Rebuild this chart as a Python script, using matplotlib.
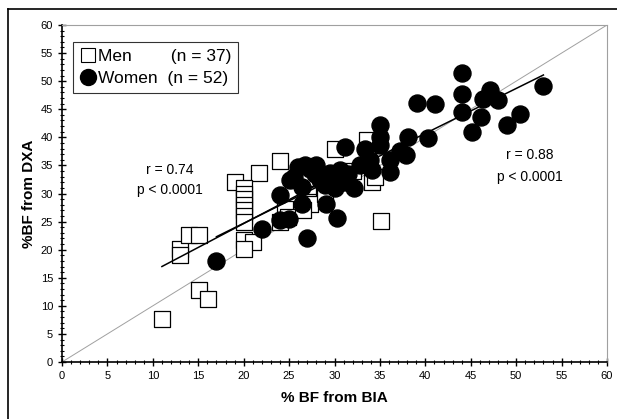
import matplotlib.pyplot as plt
import numpy as np
from matplotlib.lines import Line2D

plt.rcParams["font.family"] = ["Liberation Sans", "DejaVu Sans"]

# men (hollow squares)
men_bia = [11.0, 15.1, 16.1, 13.0, 13.0, 14.0, 15.1, 19.1, 21.7, 24.0, 30.1,
           20.0, 20.0, 20.0, 20.0, 20.0, 20.0, 20.0, 20.0, 21.0, 20.0,
           24.6, 24.9, 24.0, 27.5, 27.1, 27.1, 27.1, 27.3, 33.6, 34.1,
           34.5, 35.1, 26.5, 29.0, 30.0, 32.0]
men_dxa = [7.6, 12.9, 11.3, 20.2, 19.0, 22.6, 22.7, 32.1, 33.7, 35.8, 38.0,
           31.0, 30.0, 29.0, 28.0, 27.0, 26.0, 25.0, 21.7, 21.4, 20.2,
           27.3, 25.9, 25.0, 34.7, 32.0, 30.0, 28.5, 28.1, 39.5, 32.1,
           33.0, 25.1, 27.0, 30.0, 33.5, 34.0]

# women (filled circles)
women_bia = [17.0, 22.0, 24.0, 25.0, 27.0, 30.3, 26.4, 29.1, 24.0, 25.1,
             26.0, 27.3, 26.4, 28.4, 29.5, 30.6, 31.0, 32.1, 31.2, 33.4,
             32.8, 33.9, 34.1, 35.0, 35.0, 35.0, 36.1, 36.1, 37.2, 37.9,
             38.1, 40.3, 39.1, 41.1, 44.0, 44.0, 44.0, 45.1, 46.1, 46.4,
             47.1, 48.0, 49.0, 50.4, 53.0, 27.8, 29.0, 30.0, 26.8, 31.5,
             25.5, 28.0]
women_dxa = [18.0, 23.6, 25.3, 25.5, 22.0, 25.6, 28.2, 28.1, 29.7, 32.4,
             34.7, 34.4, 31.2, 32.4, 33.6, 34.2, 32.1, 30.9, 38.2, 38.0,
             35.1, 35.9, 34.2, 42.2, 40.1, 38.6, 35.9, 33.9, 37.5, 36.8,
             40.1, 39.8, 46.2, 46.0, 51.5, 47.8, 44.5, 41.0, 43.6, 46.9,
             48.4, 46.6, 42.2, 44.1, 49.1, 33.5, 31.5, 31.0, 35.0, 33.5,
             33.0, 35.0]

# regression lines: slope, intercept, x-range
men_fit = (0.85, 7.65)
men_range = (11.0, 35.0)
women_fit = (0.80, 8.7)
women_range = (17.0, 53.0)

fig = plt.figure(figsize=(6.17, 4.19), dpi=100)
ax = fig.add_axes([62 / 617, 57 / 419, 545 / 617, 337 / 419])

# outer frame (top and left edges)
fig.add_artist(Line2D([8 / 617, 1.0], [1 - 9 / 419, 1 - 9 / 419], color="black", lw=1.2))
fig.add_artist(Line2D([8 / 617, 8 / 617], [0, 1 - 9 / 419], color="black", lw=1.2))

ax.plot([0, 60], [0, 60], color="#a0a0a0", lw=0.7, zorder=1)

ax.scatter(men_bia, men_dxa, marker="s", s=120, facecolors="white",
           edgecolors="black", linewidths=0.9, zorder=2)
ax.scatter(women_bia, women_dxa, marker="o", s=150, color="black", zorder=3)

for (m, b), (x0, x1) in [(men_fit, men_range), (women_fit, women_range)]:
    xs = np.array([x0, x1])
    ax.plot(xs, m * xs + b, color="black", lw=1.1, zorder=4)

ax.set_xlim(0, 60)
ax.set_ylim(0, 60)
ax.set_xticks(np.arange(0, 61, 5))
ax.set_yticks(np.arange(0, 61, 5))
ax.set_xticks(np.arange(0, 61, 1), minor=True)
ax.set_yticks(np.arange(0, 61, 1), minor=True)
ax.tick_params(which="major", direction="inout", length=6, width=1, labelsize=8)
ax.tick_params(which="minor", direction="inout", length=3, width=0.8)
ax.spines["top"].set_color("#a0a0a0")
ax.spines["right"].set_color("#a0a0a0")
ax.spines["left"].set_linewidth(1.2)
ax.spines["bottom"].set_linewidth(1.2)

ax.set_xlabel("% BF from BIA", fontsize=11, fontweight="bold", labelpad=7)
ax.set_ylabel("%BF from DXA", fontsize=11, fontweight="bold", labelpad=3)

ax.text(11.9, 34.2, "r = 0.74", ha="center", va="center", fontsize=10)
ax.text(11.9, 30.6, "p < 0.0001", ha="center", va="center", fontsize=10)
ax.text(51.5, 36.8, "r = 0.88", ha="center", va="center", fontsize=10)
ax.text(51.5, 33.0, "p < 0.0001", ha="center", va="center", fontsize=10)

handles = [
    Line2D([], [], marker="s", ls="none", markersize=9.5, markerfacecolor="white",
           markeredgecolor="black", markeredgewidth=0.8),
    Line2D([], [], marker="o", ls="none", markersize=11.5, color="black"),
]
leg = ax.legend(handles, ["Men        (n = 37)", "Women  (n = 52)"],
                loc="upper left", bbox_to_anchor=(0.020, 0.95), fontsize=12.5,
                frameon=True, fancybox=False, edgecolor="black",
                handletextpad=0.15, handlelength=0.9, borderpad=0.4,
                labelspacing=0.4, borderaxespad=0)
leg.get_frame().set_linewidth(0.8)

fig.savefig("out.png", dpi=100)
